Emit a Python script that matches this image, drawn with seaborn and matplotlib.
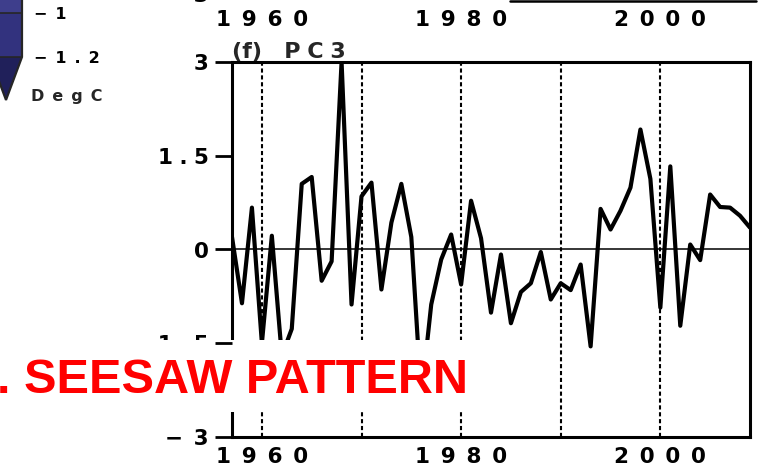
import matplotlib
matplotlib.use("Agg")
import matplotlib.pyplot as plt
import pandas as pd
import seaborn as sns
from matplotlib.colors import ListedColormap, BoundaryNorm
from matplotlib.cm import ScalarMappable
from matplotlib.patches import Rectangle
from matplotlib.lines import Line2D
from matplotlib.transforms import blended_transform_factory

# PC3 time series, one value per year
years = list(range(1957, 2010))
pc3 = [0.20, -0.86, 0.67, -1.50, 0.22, -1.70, -1.27, 1.05, 1.16, -0.50,
       -0.19, 3.00, -0.88, 0.85, 1.07, -0.64, 0.43, 1.05, 0.20, -2.36,
       -0.88, -0.16, 0.24, -0.56, 0.78, 0.18, -1.01, -0.08, -1.18, -0.68,
       -0.54, -0.04, -0.80, -0.54, -0.65, -0.24, -1.55, 0.65, 0.32, 0.62,
       0.99, 1.92, 1.13, -0.93, 1.33, -1.22, 0.08, -0.17, 0.88, 0.68,
       0.67, 0.54, 0.35]

decades = [1960, 1970, 1980, 1990, 2000]
xtick_years = [1960, 1980, 2000]
ytick_vals = [-3, -1.5, 0, 1.5, 3]
ytick_text = ["\u22123", "\u22121.5", "0", "1.5", "3"]

# colour bar left over from the map panel above
cbar_bounds = [-1.2, -1.0, -0.8, -0.6, -0.4]
cbar_colors = ["#32327e", "#3e3e8c", "#4a4a98", "#5656a4"]
cbar_under = "#20205a"
cbar_ticks = [-1.2, -1.0]
cbar_text = ["\u22121.2", "\u22121"]

title = "(f) PC3"
banner = "1. SEESAW PATTERN"


def spaced(s, sep="\u2002"):
    return sep.join(s)


def spaced_num(s):
    # wide gap after the minus sign, narrower gaps round the digits
    out = ""
    for i, ch in enumerate(s):
        if i > 0:
            out += "\u2002" if s[i - 1] == "\u2212" else "\u2009\u200a"
        out += ch
    return out


W, H = 761, 474


def fx(px):
    return px / W


def fy(py):
    return 1 - py / H


sns.set_theme(style="white")
plt.rcParams["font.family"] = ["DejaVu Sans"]
plt.rcParams.update({"ytick.color": "black", "xtick.color": "black"})

fig = plt.figure(figsize=(W / 100, H / 100), dpi=100)

# main panel
ax = fig.add_axes([fx(232), fy(437), fx(750) - fx(232), (437 - 62) / H])
df = pd.DataFrame({"year": years, "pc3": pc3})
sns.lineplot(data=df, x="year", y="pc3", ax=ax, color="black", lw=3.0, zorder=4)
ax.axhline(0, color="black", lw=1.1, zorder=2)
for d in decades:
    ax.axvline(d, color="black", lw=1.5, ls=(0, (2, 1.3)), zorder=1)

ax.set_xlim(1957, 2009)
ax.set_ylim(-3, 3)
ax.set_xlabel("")
ax.set_ylabel("")
ax.set_xticks(xtick_years)
ax.set_xticklabels([spaced(str(y)) for y in xtick_years])
ax.set_yticks(ytick_vals)
ax.set_yticklabels([spaced_num(t) for t in ytick_text])
ax.tick_params(axis="x", length=0, pad=7, labelsize=15.5)
ax.tick_params(axis="y", left=True, length=10, width=0, pad=7, labelsize=15.5)
for lab in ax.get_xticklabels() + ax.get_yticklabels():
    lab.set_fontweight("bold")
for sp in ax.spines.values():
    sp.set_visible(True)
    sp.set_color("black")
    sp.set_linewidth(2.2)
ax.set_title("(f)\u2002\u2002" + spaced("PC3", "\u2009\u200a"),
             loc="left", fontsize=16, pad=3, fontweight="bold")

# outward y tick marks, drawn at figure level (x in figure fraction, y in data)
tick_tr = blended_transform_factory(fig.transFigure, ax.transData)
for v in ytick_vals:
    fig.add_artist(Line2D([fx(215), fx(232)], [v, v], transform=tick_tr,
                          color="black", lw=2.0, solid_capstyle="butt", zorder=10))

# bottom of the panel above: only its year labels reach into the picture
ax_top = fig.add_axes([fx(232), fy(-6), fx(750) - fx(232), 0.5])
ax_top.set_xlim(1957, 2009)
ax_top.set_ylim(-3, 3)
ax_top.set_facecolor("none")
ax_top.set_xticks(xtick_years)
ax_top.set_xticklabels([spaced(str(y)) for y in xtick_years])
ax_top.set_yticks([-3])
ax_top.set_yticklabels([spaced_num("\u22123")])
ax_top.tick_params(axis="x", length=0, pad=11.5, labelsize=15.5)
ax_top.tick_params(axis="y", length=10, width=0, pad=7, labelsize=15.5)
for lab in ax_top.get_xticklabels() + ax_top.get_yticklabels():
    lab.set_fontweight("bold")
for sp in ax_top.spines.values():
    sp.set_visible(False)
fig.add_artist(Line2D([fx(510), fx(756)], [fy(1), fy(1)], transform=fig.transFigure,
                      color="black", lw=1.8))

# colour bar
cmap = ListedColormap(cbar_colors)
cmap.set_under(cbar_under)
norm = BoundaryNorm(cbar_bounds, cmap.N)
cax = fig.add_axes([fx(-10), fy(100), 32 / W, 220 / H])
cb = fig.colorbar(ScalarMappable(norm=norm, cmap=cmap), cax=cax, extend="min",
                  extendfrac=0.243, drawedges=True, ticks=cbar_ticks)
cb.outline.set_linewidth(1.6)
cb.dividers.set_linewidth(1.2)
cb.set_ticklabels([spaced(t) for t in cbar_text])
cax.tick_params(length=0, pad=9, labelsize=11.5)
for lab in cax.get_yticklabels():
    lab.set_fontweight("bold")
fig.text(fx(31), fy(101), spaced("DegC"), fontsize=11.5, fontweight="bold",
         ha="left", va="baseline")

# white banner with the red heading laid over the chart
fig.add_artist(Rectangle((0, fy(412)), fx(478), (412 - 340) / H,
                         transform=fig.transFigure, facecolor="white",
                         edgecolor="none", zorder=5))
fig.text(fx(468), fy(393), banner, color="#ff0000", fontsize=35,
         fontweight="bold", family="Liberation Sans", ha="right",
         va="baseline", zorder=6)

fig.savefig("out.png", dpi=100)
